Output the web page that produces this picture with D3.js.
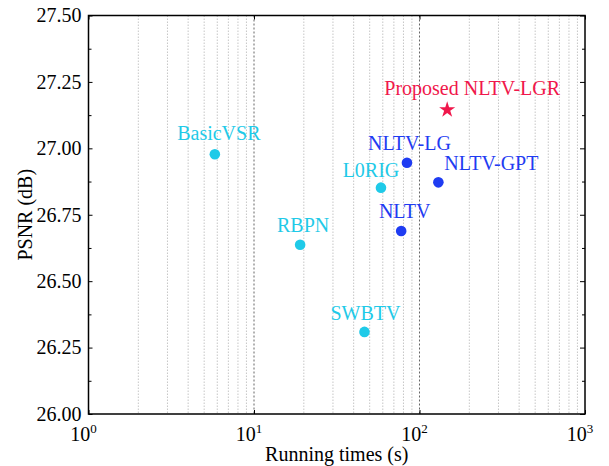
<!DOCTYPE html>
<html>
<head>
<meta charset="utf-8">
<script src="https://cdnjs.cloudflare.com/ajax/libs/d3/7.8.5/d3.min.js"></script>
<style>
body { margin: 0; background: #fff; }
svg text { font-family: "Liberation Serif", "Times New Roman", serif; }
</style>
</head>
<body>
<svg id="chart" width="609" height="466"></svg>
<script>
// data
const methods = ["BasicVSR", "RBPN", "SWBTV", "L0RIG", "NLTV", "NLTV-LG", "NLTV-GPT", "Proposed NLTV-LGR"];
const times = [5.8, 19, 46.5, 58.5, 77.5, 84, 130, 147];
const psnr = [26.978, 26.637, 26.309, 26.852, 26.689, 26.946, 26.872, 27.145];
const groups = ["other", "other", "other", "other", "nltv", "nltv", "nltv", "ours"];

const yTicks = [26.00, 26.25, 26.50, 26.75, 27.00, 27.25, 27.50];
const xTicks = [1, 10, 100, 1000];

// label placement relative to each point
const labelPos = [
	{dx: 4, dy: -14, anchor: "middle"},
	{dx: 3, dy: -13, anchor: "middle"},
	{dx: 1, dy: -12, anchor: "middle"},
	{dx: -10, dy: -11, anchor: "middle"},
	{dx: 3.5, dy: -13, anchor: "middle"},
	{dx: 2.5, dy: -13, anchor: "middle"},
	{dx: 6, dy: -12, anchor: "start"},
	{dx: 25, dy: -15, anchor: "middle"}
];

const color = {other: "#1fcae8", nltv: "#1f3cf2", ours: "#f0174b"};

const svg = d3.select("#chart");
const pLeft = 88.5, pRight = 585, pTop = 15.5, pBottom = 414;

const x = d3.scaleLog().domain([1, 1000]).range([pLeft, pRight]);
const y = d3.scaleLinear().domain([26, 27.5]).range([pBottom, pTop]);

// vertical grid: minor decades light dotted, 10 and 100 darker dashed
let minor = [];
for (let k = 0; k < 3; k++) {
	for (let m = 2; m <= 9; m++) minor.push(m * Math.pow(10, k));
}
svg.append("g")
.selectAll("line")
.data(minor)
.join("line")
.attr("x1", d => x(d)).attr("x2", d => x(d))
.attr("y1", pTop).attr("y2", pBottom)
.attr("stroke", "#c0c0c0")
.attr("stroke-width", 0.9)
.attr("stroke-dasharray", "1.5,1.5");

svg.append("g")
.selectAll("line")
.data([10, 100])
.join("line")
.attr("x1", d => x(d)).attr("x2", d => x(d))
.attr("y1", pTop).attr("y2", pBottom)
.attr("stroke", "#555")
.attr("stroke-width", 0.9)
.attr("stroke-dasharray", "2,2");

// frame
svg.append("rect")
.attr("x", pLeft).attr("y", pTop)
.attr("width", pRight - pLeft).attr("height", pBottom - pTop)
.attr("fill", "none")
.attr("stroke", "#000")
.attr("stroke-width", 1.5);

// y axis left with labels
const yMinor = d3.range(26.125, 27.5, 0.25);
let yAxis = svg.append("g")
.attr("transform", `translate(${pLeft},0)`)
.call(d3.axisLeft(y).tickValues(yTicks).tickSize(-4).tickPadding(7).tickFormat(d3.format(".2f")));
yAxis.select(".domain").remove();
yAxis.selectAll("text").style("font-size", "20px").attr("fill", "#000");

let yAxisMinor = svg.append("g")
.attr("transform", `translate(${pLeft},0)`)
.call(d3.axisLeft(y).tickValues(yMinor).tickSize(-3).tickFormat(""));
yAxisMinor.select(".domain").remove();

// right side ticks
let yRight = svg.append("g")
.attr("transform", `translate(${pRight},0)`)
.call(d3.axisRight(y).tickValues(yTicks).tickSize(-5).tickFormat(""));
yRight.select(".domain").remove();
let yRightMinor = svg.append("g")
.attr("transform", `translate(${pRight},0)`)
.call(d3.axisRight(y).tickValues(yMinor).tickSize(-3).tickFormat(""));
yRightMinor.select(".domain").remove();

// x axis ticks bottom/top
let xAxis = svg.append("g")
.attr("transform", `translate(0,${pBottom})`)
.call(d3.axisBottom(x).tickValues(xTicks).tickSize(-4).tickFormat(""));
xAxis.select(".domain").remove();
let xTop = svg.append("g")
.attr("transform", `translate(0,${pTop})`)
.call(d3.axisTop(x).tickValues(xTicks).tickSize(-4).tickFormat(""));
xTop.select(".domain").remove();

// x tick labels as powers of ten
let xl = svg.append("g")
.selectAll("text")
.data(xTicks)
.join("text")
.attr("x", d => x(d) - 5)
.attr("y", 441)
.attr("text-anchor", "middle")
.style("font-size", "20px");
xl.append("tspan").text("10");
xl.append("tspan")
.attr("dy", -8)
.style("font-size", "13px")
.text(d => Math.round(Math.log10(d)));

// axis titles
svg.append("text")
.attr("x", (pLeft + pRight) / 2)
.attr("y", 461)
.attr("text-anchor", "middle")
.style("font-size", "20px")
.text("Running times (s)");

svg.append("text")
.attr("transform", `translate(32,${(pTop + pBottom) / 2}) rotate(-90)`)
.attr("text-anchor", "middle")
.style("font-size", "20px")
.text("PSNR (dB)");

// points
const pts = methods.map((m, i) => ({name: m, t: times[i], p: psnr[i], g: groups[i], lp: labelPos[i]}));

svg.append("g")
.selectAll("circle")
.data(pts.filter(d => d.g != "ours"))
.join("circle")
.attr("cx", d => x(d.t))
.attr("cy", d => y(d.p))
.attr("r", 5.3)
.attr("fill", d => color[d.g]);

svg.append("g")
.selectAll("path")
.data(pts.filter(d => d.g == "ours"))
.join("path")
.attr("transform", d => `translate(${x(d.t)},${y(d.p)})`)
.attr("d", d3.symbol().type(d3.symbolStar).size(80))
.attr("fill", d => color[d.g]);

svg.append("g")
.selectAll("text")
.data(pts)
.join("text")
.attr("x", d => x(d.t) + d.lp.dx)
.attr("y", d => y(d.p) + d.lp.dy)
.attr("text-anchor", d => d.lp.anchor)
.attr("fill", d => color[d.g])
.style("font-size", "20px")
.text(d => d.name);
</script>
</body>
</html>
